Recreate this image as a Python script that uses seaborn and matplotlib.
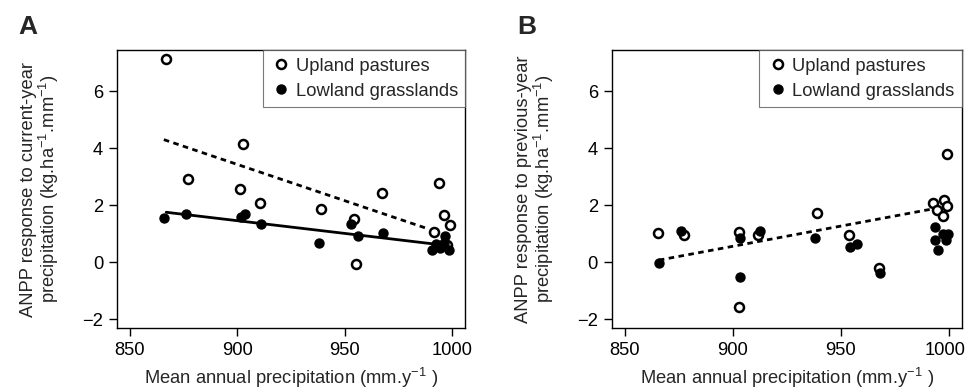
import numpy as np
import matplotlib
matplotlib.use("Agg")
import matplotlib.pyplot as plt
import matplotlib.transforms as mtransforms
import pandas as pd
import seaborn as sns
from matplotlib.lines import Line2D

# -------------------- Data --------------------

# Panel A: response to current-year precipitation
a_upland_x = [867.0, 902.7, 877.0, 901.3, 910.4, 938.8, 954.2, 955.1, 967.3, 994.0, 996.2, 991.6, 999.0, 997.5]
a_upland_y = [7.13, 4.16, 2.92, 2.57, 2.10, 1.87, 1.52, -0.06, 2.45, 2.80, 1.65, 1.07, 1.31, 0.60]
a_lowland_x = [865.8, 876.3, 901.9, 903.5, 910.8, 937.8, 952.9, 956.0, 968.0, 990.7, 994.1, 996.8, 996.4, 998.4, 992.5]
a_lowland_y = [1.57, 1.70, 1.60, 1.70, 1.35, 0.68, 1.35, 0.91, 1.03, 0.44, 0.50, 0.91, 0.68, 0.42, 0.65]

# Panel B: response to previous-year precipitation
b_upland_x = [865.3, 877.3, 903.1, 903.1, 911.8, 938.8, 953.7, 967.5, 992.7, 997.7, 999.3, 994.6, 997.4, 999.0]
b_upland_y = [1.04, 0.95, 1.06, -1.57, 0.95, 1.75, 0.95, -0.19, 2.07, 2.20, 1.97, 1.85, 1.62, 3.79]
b_lowland_x = [865.8, 876.2, 903.4, 903.4, 912.6, 938.0, 954.3, 957.3, 968.1, 993.6, 993.3, 995.1, 997.0, 998.5, 999.7]
b_lowland_y = [-0.03, 1.10, 0.87, -0.50, 1.10, 0.87, 0.54, 0.66, -0.38, 1.24, 0.78, 0.43, 1.01, 0.78, 1.01]

# Fitted regression lines (end points)
a_upland_fit_x = [865.8, 988.7]
a_upland_fit_y = [4.31, 1.18]
a_lowland_fit_x = [866.9, 994.5]
a_lowland_fit_y = [1.76, 0.62]
b_fit_x = [865.8, 994.0]
b_fit_y = [0.08, 1.90]

x_ticks = [850, 900, 950, 1000]
y_ticks = [-2, 0, 2, 4, 6]

# -------------------- Plotting --------------------

sns.set_style("ticks")
plt.rcParams["font.family"] = ["Liberation Sans", "DejaVu Sans"]
plt.rcParams["axes.linewidth"] = 1.0
plt.rcParams["mathtext.default"] = "regular"

fig = plt.figure(figsize=(9.67, 3.89), dpi=100)
ax1 = fig.add_axes([0.121, 0.157, 0.360, 0.714])
ax2 = fig.add_axes([0.6326, 0.157, 0.3622, 0.714])

open_kw = dict(marker="o", s=42, facecolor="white", edgecolor="black", linewidth=1.8, zorder=3)
fill_kw = dict(marker="o", s=42, color="black", edgecolor="black", linewidth=1.0, zorder=3)
dash_kw = dict(color="black", linewidth=2.0, dashes=(2.0, 1.6))


def draw_panel(ax, up_x, up_y, low_x, low_y):
    sns.scatterplot(x=up_x, y=up_y, ax=ax, **open_kw)
    sns.scatterplot(x=low_x, y=low_y, ax=ax, **fill_kw)


draw_panel(ax1, a_upland_x, a_upland_y, a_lowland_x, a_lowland_y)
ax1.plot(a_upland_fit_x, a_upland_fit_y, **dash_kw)
sns.lineplot(x=a_lowland_fit_x, y=a_lowland_fit_y, ax=ax1, color="black", linewidth=2.0)

draw_panel(ax2, b_upland_x, b_upland_y, b_lowland_x, b_lowland_y)
ax2.plot(b_fit_x, b_fit_y, **dash_kw)

ylabels = ["ANPP response to current-year\nprecipitation (kg.ha$^{-1}$.mm$^{-1}$)",
           "ANPP response to previous-year\nprecipitation (kg.ha$^{-1}$.mm$^{-1}$)"]

handles = [Line2D([], [], marker="o", linestyle="none", markersize=6.5,
                  markerfacecolor="white", markeredgecolor="black", markeredgewidth=1.8),
           Line2D([], [], marker="o", linestyle="none", markersize=6.5,
                  markerfacecolor="black", markeredgecolor="black")]

for ax, lab in zip([ax1, ax2], ylabels):
    ax.set_xlim(844, 1006)
    ax.set_ylim(-2.3, 7.45)
    ax.set_xticks(x_ticks)
    ax.set_yticks(y_ticks)
    ax.tick_params(labelsize=13.2, length=6, width=1.0, colors="black", pad=4)
    for s in ax.spines.values():
        s.set_visible(True)
        s.set_color("black")
    ax.set_xlabel("Mean annual precipitation (mm.y$^{-1}$ )", fontsize=13.2, labelpad=5)
    ax.set_ylabel(lab, fontsize=13.2, labelpad=15, linespacing=1.0)
    leg = ax.legend(handles, ["Upland pastures", "Lowland grasslands"], loc="upper right",
                    fontsize=13.2, frameon=True, fancybox=False, borderaxespad=0,
                    handletextpad=0.2, handlelength=1.2, borderpad=0.4, labelspacing=0.45)
    leg.get_frame().set_edgecolor("0.35")
    leg.get_frame().set_linewidth(0.8)

# keep the last tick label of panel B inside the figure, as in the reference
fig.canvas.draw()
last_lab = ax2.get_xticklabels()[-1]
last_lab.set_transform(last_lab.get_transform() +
                       mtransforms.ScaledTranslation(-4 / 100, 0, fig.dpi_scale_trans))

fig.text(28 / 967, 1 - 27 / 389, "A", fontsize=19, fontweight="bold", va="center", ha="center")
fig.text(527 / 967, 1 - 27 / 389, "B", fontsize=19, fontweight="bold", va="center", ha="center")

fig.savefig("out.png", dpi=100)
